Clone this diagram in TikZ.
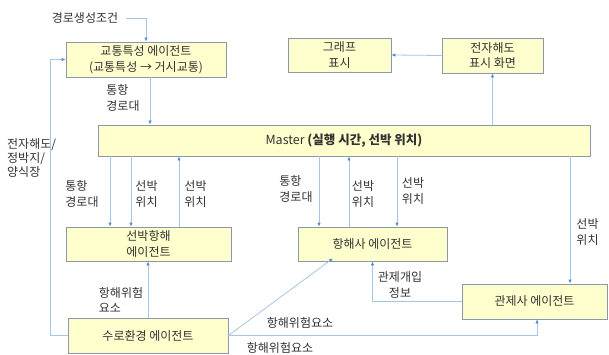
\documentclass[tikz,border=0pt]{standalone}
\usepackage{fontspec}
\setmainfont{Noto Sans CJK KR}
\usetikzlibrary{arrows.meta,calc}
\definecolor{boxfill}{RGB}{255,255,206}
\definecolor{boxline}{RGB}{138,152,170}
\definecolor{wire}{RGB}{166,198,232}
\definecolor{tipblue}{RGB}{80,140,205}
\definecolor{ink}{RGB}{50,50,50}
\begin{document}
\begin{tikzpicture}[x=1pt,y=-1pt,
  box/.style={draw=boxline, fill=boxfill, line width=0.8pt, inner sep=0pt, align=center, text=ink, font=\fontsize{12}{15.5}\selectfont},
  lbl/.style={inner sep=0pt, align=left, text=ink, font=\fontsize{12}{15.5}\selectfont},
  wireline/.style={draw=wire, line width=0.8pt},
  arr/.style={wireline, -{Latex[length=4pt,width=3.5pt,color=tipblue]}}]
\useasboundingbox (0,0) rectangle (609,355);

% boxes
\node[box, minimum width=160pt, minimum height=35pt] (traffic) at (146,59.5) {교통특성 에이전트\\(교통특성 → 거시교통)};
\node[box, minimum width=103pt, minimum height=34pt] (graph) at (339.5,55) {그래프\\표시};
\node[box, minimum width=101pt, minimum height=35pt] (enc) at (492.5,55.5) {전자해도\\표시 화면};
\node[box, minimum width=492pt, minimum height=31pt, font=\fontsize{12.5}{15}\selectfont] (master) at (344,140.5) {Master \textbf{(실행 시간, 선박 위치)}};
\node[box, minimum width=165pt, minimum height=34pt] (ship) at (148.5,244) {선박항해\\에이전트};
\node[box, minimum width=149pt, minimum height=34pt] (navi) at (372.5,244) {항해사 에이전트};
\node[box, minimum width=145pt, minimum height=35pt] (vts) at (534.5,301.5) {관제사 에이전트};
\node[box, minimum width=160pt, minimum height=35pt] (env) at (148,335.5) {수로환경 에이전트};

% labels
\node[lbl] (cond) at (85,18) {경로생성조건};
\node[lbl] (l1) at (123,98) {통항\\경로대};
\node[lbl, font=\fontsize{12}{14}\selectfont, anchor=west] (l2) at (7,158) {전자해도/\\정박지/\\양식장};
\node[lbl] (l3) at (82,194) {통항\\경로대};
\node[lbl] (l4) at (146.5,194) {선박\\위치};
\node[lbl] (l5) at (195.5,194) {선박\\위치};
\node[lbl] (l6) at (296,189) {통항\\경로대};
\node[lbl] (l7) at (363,194) {선박\\위치};
\node[lbl] (l8) at (413,191) {선박\\위치};
\node[lbl] (l9) at (587.5,232) {선박\\위치};
\node[lbl, align=center] (l10) at (400,285) {관제개입\\정보};
\node[lbl] (l11) at (121,300) {항해위험\\요소};
\node[lbl] (l12) at (300,323) {항해위험요소};
\node[lbl] (l13) at (280,347.5) {항해위험요소};

% connectors
\draw[arr] ([xshift=8pt]cond.east) -| (traffic.north);
\draw[arr] ([xshift=4pt]traffic.south) -- ([xshift=4pt]traffic.south |- master.north);
\draw[arr] (env.west) -- ++(-17,0) |- (traffic.west);
\draw[arr] (env.east) -| ([xshift=2.5pt]vts.south);
\draw[arr] (env.north) -- (env.north |- ship.south);
\draw[arr] (env.east) -- ([xshift=-39.5pt,yshift=3pt]navi.south);

\draw[arr] ([xshift=-38.5pt]ship.north |- master.south) -- ([xshift=-38.5pt]ship.north);
\draw[arr] ([xshift=-17.5pt]ship.north |- master.south) -- ([xshift=-17.5pt]ship.north);
\draw[arr] ([xshift=30.5pt]ship.north) -- ([xshift=30.5pt]ship.north |- master.south);

\draw[arr] ([xshift=-53.5pt]navi.north |- master.south) -- ([xshift=-53.5pt]navi.north);
\draw[arr] ([xshift=-23.5pt]navi.north) -- ([xshift=-23.5pt]navi.north |- master.south);
\draw[arr] ([xshift=24.5pt]navi.north |- master.south) -- ([xshift=24.5pt]navi.north);

\draw[arr] ([xshift=35.5pt]vts.north |- master.south) -- ([xshift=35.5pt]vts.north);
\draw[arr] (master.north -| enc.south) -- (enc.south);
\draw[arr] (enc.west) -- (graph.east);
\draw[arr] (vts.west) -| (navi.south);
\end{tikzpicture}
\end{document}
